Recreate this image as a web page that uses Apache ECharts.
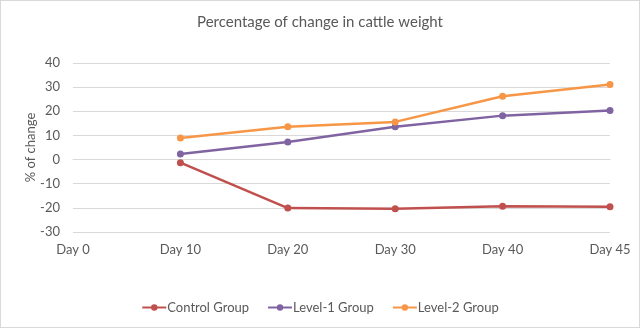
<!DOCTYPE html>
<html><head><meta charset="utf-8">
<script src="https://cdn.jsdelivr.net/npm/echarts@6/dist/echarts.min.js"></script>
<style>html,body{margin:0;padding:0;background:#fff}#c{width:640px;height:328px;box-sizing:border-box;border:1px solid #d9d9d9}</style>
</head><body><div id="c"></div>
<script>
const categories = ['Day 0','Day 10','Day 20','Day 30','Day 40','Day 45'];
const controlGroup = [null, -1.3, -20.1, -20.4, -19.3, -19.5];
const level1Group = [null, 2.3, 7.3, 13.6, 18.2, 20.3];
const level2Group = [null, 8.9, 13.6, 15.6, 26.2, 31.1];
const yTicks = {min: -30, max: 40, interval: 10};
const font = 'Lato, sans-serif';
const chart = echarts.init(document.getElementById('c'));
function s(name, data, color){
  return {name, type:'line', data, symbol:'circle', symbolSize:7, showSymbol:true,
    lineStyle:{color, width:2.5}, itemStyle:{color}, connectNulls:false};
}
chart.setOption({
  animation:false,
  color:['#C0504D','#8064A2','#F79646'],
  title:{text:'Percentage of change in cattle weight', left:'center', top:9,
    textStyle:{fontFamily:font, fontSize:15, fontWeight:'normal', color:'#595959'}},
  grid:{left:72, right:29, top:62, bottom:95, containLabel:false},
  legend:{bottom:8, left:'center', itemWidth:24, itemHeight:8, itemGap:18,
    textStyle:{fontFamily:font, fontSize:13, color:'#595959', padding:[0,0,0,-4]}},
  xAxis:{type:'category', data:categories, boundaryGap:false,
    axisLine:{lineStyle:{color:'#d9d9d9'}}, axisTick:{show:false},
    axisLabel:{fontFamily:font, fontSize:13, color:'#595959', margin:11}},
  yAxis:{type:'value', min:yTicks.min, max:yTicks.max, interval:yTicks.interval,
    name:'% of change', nameLocation:'middle', nameGap:36, nameRotate:90, nameMoveOverlap:false,
    nameTextStyle:{fontFamily:font, fontSize:13, color:'#595959'},
    axisLine:{show:false}, axisTick:{show:false},
    splitLine:{lineStyle:{color:'#d9d9d9'}},
    axisLabel:{fontFamily:font, fontSize:13, color:'#595959', margin:13}},
  series:[s('Control Group', controlGroup, '#C0504D'), s('Level-1 Group', level1Group, '#8064A2'), s('Level-2 Group', level2Group, '#F79646')]
});
</script></body></html>
